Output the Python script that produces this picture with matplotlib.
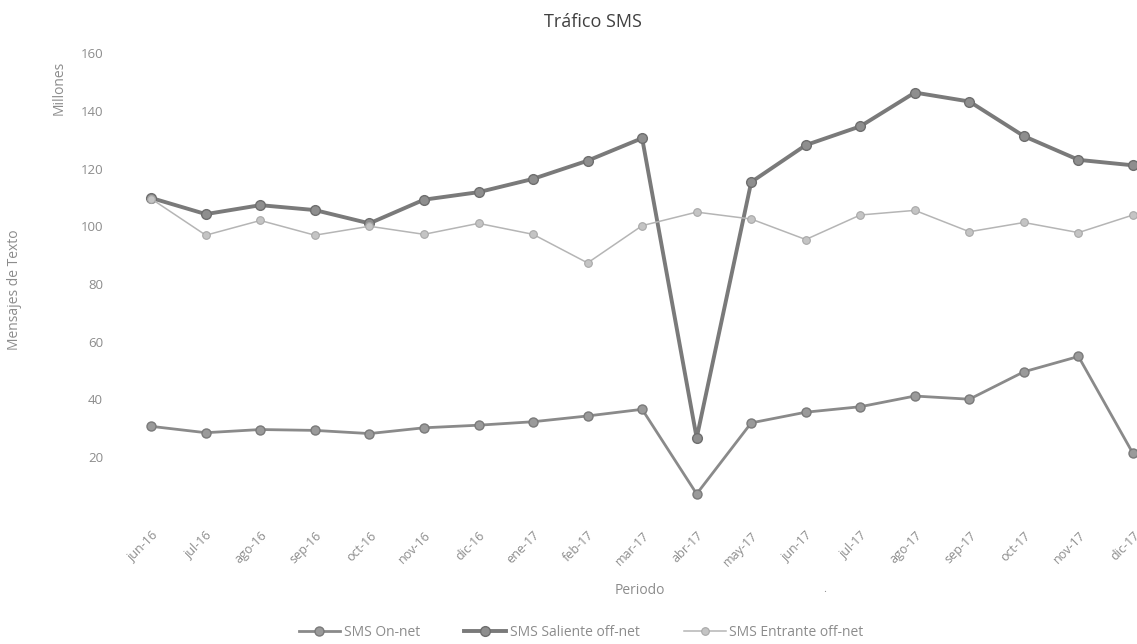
import matplotlib
matplotlib.use("Agg")
import matplotlib.pyplot as plt

periodos = ["jun-16", "jul-16", "ago-16", "sep-16", "oct-16", "nov-16", "dic-16",
            "ene-17", "feb-17", "mar-17", "abr-17", "may-17", "jun-17", "jul-17",
            "ago-17", "sep-17", "oct-17", "nov-17", "dic-17"]

sms_on_net = [30.7, 28.5, 29.6, 29.3, 28.2, 30.2, 31.1, 32.3, 34.3, 36.6, 7.3,
              31.9, 35.6, 37.5, 41.2, 40.1, 49.6, 54.9, 21.3]
sms_saliente = [109.8, 104.2, 107.3, 105.6, 101.0, 109.2, 111.8, 116.4, 122.7, 130.5,
                26.7, 115.3, 128.1, 134.6, 146.3, 143.2, 131.2, 123.0, 121.1]
sms_entrante = [109.5, 96.9, 102.0, 96.9, 100.0, 97.2, 101.0, 97.2, 87.3, 100.2,
                104.9, 102.5, 95.4, 103.9, 105.5, 98.1, 101.3, 97.8, 103.9]

yticks = [20, 40, 60, 80, 100, 120, 140, 160]

plt.rcParams['font.family'] = ['Open Sans', 'DejaVu Sans']
W, H = 1137, 644
fig = plt.figure(figsize=(W / 100, H / 100), dpi=100)
ax = fig.add_axes([124 / W, 1 - 515 / H, (W - 124) / W, (515 - 53) / H])

x = list(range(len(periodos)))
ax.plot(x, sms_on_net, color='#8a8a8a', lw=2.0, marker='o', ms=6.5,
        mfc='#9a9a9a', mec='#7a7a7a', mew=1.0, label='SMS On-net', clip_on=False)
ax.plot(x, sms_saliente, color='#7a7a7a', lw=2.8, marker='o', ms=7,
        mfc='#8e8e8e', mec='#6e6e6e', mew=1.0, label='SMS Saliente off-net', clip_on=False)
ax.plot(x, sms_entrante, color='#b5b5b5', lw=1.1, marker='o', ms=5.5,
        mfc='#c4c4c4', mec='#a8a8a8', mew=0.8, label='SMS Entrante off-net', clip_on=False)

ax.set_xlim(-0.5, 18 + 4 / 54.55)
ax.set_ylim(0, 160)
ax.set_yticks(yticks)
ax.set_yticklabels([str(v) for v in yticks], color='#8c8c8c', fontsize=9.5)
ax.set_xticks(x)
ax.set_xticklabels(periodos, rotation=45, ha='right', rotation_mode='anchor',
                   color='#8c8c8c', fontsize=9)
ax.tick_params(axis='both', length=0)
ax.tick_params(axis='y', pad=15)
ax.tick_params(axis='x', pad=10)
for s in ax.spines.values():
    s.set_visible(False)

fig.text(593 / W, 1 - 22 / H, 'Tráfico SMS', ha='center', va='center',
         fontsize=13, color='#404040')
fig.text(59 / W, 1 - 88 / H, 'Millones', rotation=90, ha='center', va='center',
         fontsize=10, color='#8c8c8c')
fig.text(15 / W, 1 - 290 / H, 'Mensajes de Texto', rotation=90, ha='center',
         va='center', fontsize=10, color='#8c8c8c')
fig.text(640 / W, 1 - 590 / H, 'Periodo', ha='center', va='center',
         fontsize=10, color='#8c8c8c')
fig.text(825 / W, 1 - 590 / H, '.', ha='center', va='center',
         fontsize=8, color='#8c8c8c')

leg = fig.legend(loc='center', bbox_to_anchor=(581 / W, 1 - 632 / H), ncol=3,
                 frameon=False, fontsize=10, handlelength=3.0, columnspacing=3.2,
                 handletextpad=0.25, labelcolor='#8c8c8c')

fig.savefig('out.png', dpi=100, facecolor='white')
